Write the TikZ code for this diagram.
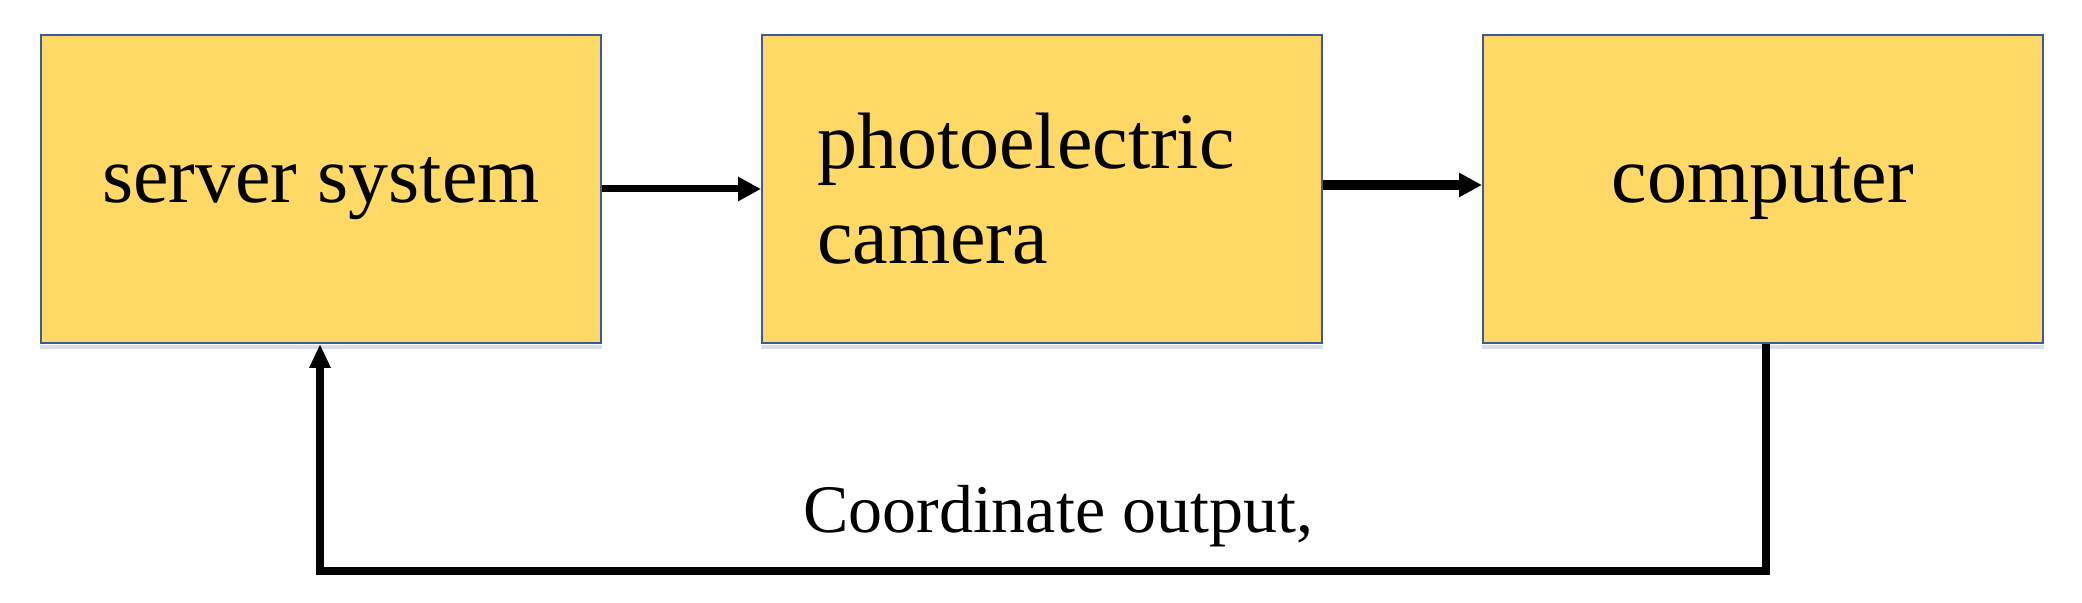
\documentclass[tikz,border=0pt]{standalone}
\usepackage{fontspec}
\setmainfont{Liberation Serif}
\usetikzlibrary{arrows.meta}
\definecolor{boxfill}{HTML}{FFD966}
\definecolor{boxline}{HTML}{3A5A98}
\definecolor{shadowc}{HTML}{DADDEA}
\tikzset{
  blockbox/.style={rectangle, draw=boxline, fill=boxfill, line width=1pt,
    minimum width=280pt, minimum height=154pt, inner sep=0pt,
    font=\fontsize{40}{47.5}\selectfont},
  conn/.style={-{Triangle[length=11.5pt,width=11.5pt]}, line width=3.5pt},
  lbl/.style={font=\fontsize{34}{40}\selectfont, inner sep=0pt}
}
\begin{document}
\begin{tikzpicture}[x=0.5pt,y=-0.5pt]
\useasboundingbox (0,0) rectangle (2082,603);
\node[blockbox] (srv) at (321,189) {server system};
\node[blockbox, align=left, text width=225pt] (cam) at (1042,189) {photoelectric\\camera};
\node[blockbox] (pc) at (1763,189) {computer};
\foreach \n in {srv,cam,pc}
  \fill[shadowc] ([yshift=-0.5pt]\n.south west) rectangle ([yshift=-2.5pt]\n.south east);
\draw[conn] (srv.east) -- (cam.west);
\draw[conn, line width=5pt] ([yshift=2pt]cam.east) -- ([yshift=2pt]pc.west);
\coordinate (c1) at (1766,571);
\coordinate (c2) at (320,571);
\draw[line width=4pt, -{Triangle[length=12pt,width=10pt]}] ([xshift=1.5pt]pc.south) -- (c1) -- (c2) -- ([xshift=-0.5pt]srv.south);
\node[lbl, anchor=base] (out) at (1058,533) {Coordinate output,};
\end{tikzpicture}
\end{document}
